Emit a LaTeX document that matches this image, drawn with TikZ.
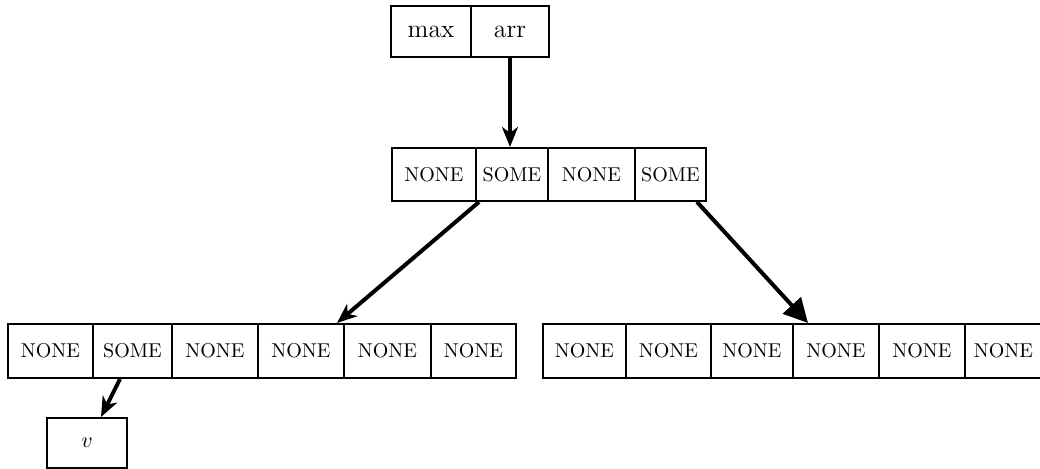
\documentclass[tikz,border=0pt]{standalone}
\usetikzlibrary{arrows.meta,calc}
\begin{document}
\begin{tikzpicture}[x=0.5pt,y=-0.5pt,
  cell/.style={draw,line width=1pt,inner sep=0pt,anchor=north west,font=\fontsize{10}{12}\selectfont},
  topcell/.style={cell,minimum height=25.5pt,font=\fontsize{12.8}{15}\selectfont},
  midcell/.style={cell,minimum height=26.5pt},
  lowcell/.style={cell,minimum height=27pt},
  ptr/.style={line width=2pt,-{Stealth[length=10pt,width=8pt,inset=3pt]}},
  bigptr/.style={line width=2pt,-{Triangle[length=12pt,width=12pt]}}]
\useasboundingbox (0,0) rectangle (1040,469);
% top record
\node[topcell,minimum width=40pt] (t1) at (390,5) {max};
\node[topcell,minimum width=39pt] (t2) at (470,5) {arr};
% middle array
\node[midcell,minimum width=42pt] (m1) at (391,147) {NONE};
\node[midcell,minimum width=36pt] (m2) at (475,147) {SOME};
\node[midcell,minimum width=43.5pt] (m3) at (547,147) {NONE};
\node[midcell,minimum width=35.5pt] (m4) at (634,147) {SOME};
% bottom left array
\node[lowcell,minimum width=42.5pt] (a1) at (7,323) {NONE};
\node[lowcell,minimum width=39.5pt] (a2) at (92,323) {SOME};
\node[lowcell,minimum width=43pt] (a3) at (171,323) {NONE};
\node[lowcell,minimum width=43pt] (a4) at (257,323) {NONE};
\node[lowcell,minimum width=43.5pt] (a5) at (343,323) {NONE};
\node[lowcell,minimum width=42.5pt] (a6) at (430,323) {NONE};
% bottom right array
\node[lowcell,minimum width=41.5pt] (b1) at (542,323) {NONE};
\node[lowcell,minimum width=42.5pt] (b2) at (625,323) {NONE};
\node[lowcell,minimum width=41pt] (b3) at (710,323) {NONE};
\node[lowcell,minimum width=43pt] (b4) at (792,323) {NONE};
\node[lowcell,minimum width=43pt] (b5) at (878,323) {NONE};
\node[lowcell,minimum width=38.5pt] (b6) at (964,323) {NONE};
% value
\node[cell,minimum width=40pt,minimum height=25pt,font=\fontsize{11}{13}\selectfont] (v) at (46,417) {$v$};
% pointers
\draw[ptr] (t2.south) -- (t2.south |- m2.north);
\draw[ptr] ($(m2.south west)+(4,0)$) -- ($(a4.north east)+(-8,0)$);
\draw[bigptr] ($(m4.south east)+(-10,0)$) -- ($(b4.north west)+(16,0)$);
\draw[ptr] ($(a2.south west)+(28,0)$) -- ($(v.north)+(14,0)$);
\end{tikzpicture}
\end{document}
